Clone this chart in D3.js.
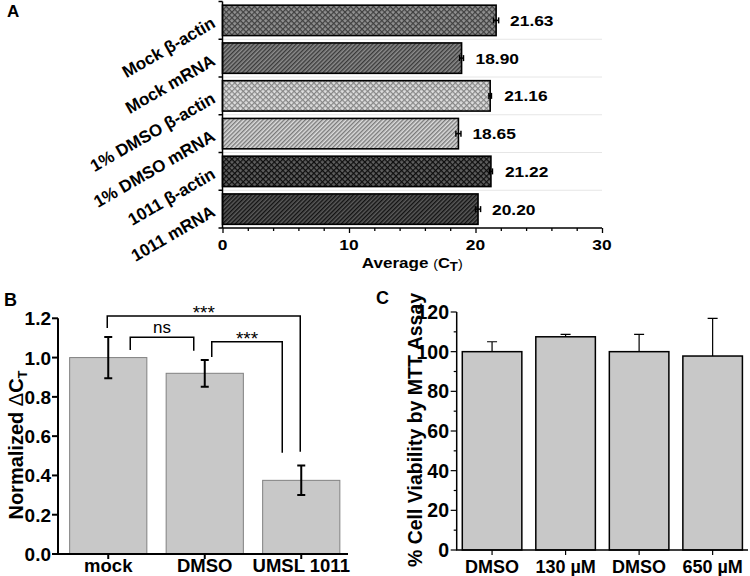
<!DOCTYPE html>
<html><head><meta charset="utf-8">
<script src="https://cdn.jsdelivr.net/npm/d3@7"></script>
<style>
body{margin:0;background:#fff;}
svg{display:block;font-family:"Liberation Sans",Arial,sans-serif;}
</style></head>
<body>
<svg id="chart" width="750" height="576"></svg>
<script>
// ---------- DATA ----------
const catsA = ["Mock β-actin","Mock mRNA","1% DMSO β-actin","1% DMSO mRNA","1011 β-actin","1011 mRNA"];
const valsA = [21.63,18.90,21.16,18.65,21.22,20.20];
const errA  = [0.2,0.15,0.1,0.2,0.12,0.2];
const ticksA = [0,10,20,30];

const catsB = ["mock","DMSO","UMSL 1011"];
const valsB = [1.0,0.92,0.375];
const errB  = [0.105,0.068,0.075];
const ticksB = [0,0.2,0.4,0.6,0.8,1.0,1.2];
// significance: from/to category index, bracket top, left leg bottom, right leg bottom (data units)
const sigFrom = [0,0,1];
const sigTo   = [2,1,2];
const sigTop  = [1.212,1.103,1.081];
const sigLegL = [1.151,1.039,1.003];
const sigLegR = [0.521,1.035,0.516];
const sigText = ["***","ns","***"];

const catsC = ["DMSO","130 µM","DMSO","650 µM"];
const valsC = [100,107.5,100,97.8];
const errC  = [5,1.2,8.7,19];
const ticksC = [0,20,40,60,80,100,120];

// ---------- STYLE ----------
const fillsA = [
  {type:"cross", bg:"#929292", fg:"#404040"},
  {type:"diag",  bg:"#8c8c8c", fg:"#3a3a3a"},
  {type:"cross", bg:"#dedede", fg:"#868686"},
  {type:"diag",  bg:"#dcdcdc", fg:"#7a7a7a"},
  {type:"cross", bg:"#606060", fg:"#0e0e0e"},
  {type:"diag",  bg:"#5a5a5a", fg:"#121212"}
];

const svg = d3.select("#chart");
const defs = svg.append("defs");
fillsA.forEach((f,i)=>{
  const s = f.type==="cross"?4:3;
  const p = defs.append("pattern").attr("id","pat"+i).attr("patternUnits","userSpaceOnUse")
    .attr("width",s).attr("height",s)
    .attr("patternTransform", f.type==="cross"?"rotate(45)":"rotate(-45)");
  p.append("rect").attr("width",s).attr("height",s).attr("fill",f.bg);
  if(f.type==="cross"){
    p.append("path").attr("d",`M0,0.6H${s}M0.6,0V${s}`).attr("stroke",f.fg).attr("stroke-width",1.2);
  } else {
    p.append("path").attr("d",`M0,0.7H${s}`).attr("stroke",f.fg).attr("stroke-width",1.4);
  }
});

function hText(g,x,y,str,size,sx,anchor,weight){
  return g.append("g").attr("transform",`translate(${x},${y}) scale(${sx},1)`)
    .append("text").attr("text-anchor",anchor||"middle").attr("font-size",size)
    .attr("font-weight",weight||"bold").attr("fill","#000").text(str);
}

// ================= PANEL A =================
const gA = svg.append("g");
const xA = d3.scaleLinear().domain([0,30]).range([222.5,602]);
const yA = d3.scaleBand().domain(catsA).range([1.5,228]).paddingInner(0.195).paddingOuter(0.0975);
const stepA = yA.step();
d3.range(1,catsA.length).forEach(i=>{
  const y = yA.range()[0]+i*stepA;
  gA.append("line").attr("x1",xA(0)).attr("x2",xA(30)).attr("y1",y).attr("y2",y)
    .attr("stroke","#e6e6e6").attr("stroke-width",1);
});
gA.selectAll("rect.bar").data(catsA).join("rect")
  .attr("x",xA(0)).attr("y",d=>yA(d)).attr("height",yA.bandwidth())
  .attr("width",(d,i)=>xA(valsA[i])-xA(0))
  .attr("fill",(d,i)=>`url(#pat${i})`).attr("stroke","#000").attr("stroke-width",1.6);
catsA.forEach((c,i)=>{
  const cy = yA(c)+yA.bandwidth()/2;
  gA.append("line").attr("x1",xA(valsA[i]-errA[i])).attr("x2",xA(valsA[i]+errA[i])).attr("y1",cy).attr("y2",cy).attr("stroke","#000").attr("stroke-width",1.5);
  [valsA[i]-errA[i],valsA[i]+errA[i]].forEach(v=>{
    gA.append("line").attr("x1",xA(v)).attr("x2",xA(v)).attr("y1",cy-3).attr("y2",cy+3).attr("stroke","#000").attr("stroke-width",1.5);
  });
  hText(gA, xA(valsA[i])+14, cy+5.5, valsA[i].toFixed(2), 15.5, 1.12, "start");
});
gA.append("line").attr("x1",xA(0)).attr("x2",xA(0)).attr("y1",yA.range()[0]).attr("y2",yA.range()[1]).attr("stroke","#000").attr("stroke-width",1.5);
d3.range(0,catsA.length+1).forEach(i=>{
  const y = yA.range()[0]+i*stepA;
  gA.append("line").attr("x1",xA(0)-4).attr("x2",xA(0)).attr("y1",y).attr("y2",y).attr("stroke","#000").attr("stroke-width",1.5);
});
catsA.forEach(c=>{
  const cy = yA(c)+yA.bandwidth()/2;
  gA.append("text").attr("transform",`translate(${xA(0)-6},${cy+6}) rotate(-30)`)
    .attr("text-anchor","end").attr("font-size",17).attr("font-weight","bold").text(c);
});
const axA = gA.append("g").attr("transform",`translate(0,228)`)
  .call(d3.axisBottom(xA).tickValues(d3.range(0,31,2)).tickSize(3).tickFormat(""));
axA.select(".domain").attr("stroke-width",1.5).attr("d",`M${xA(0)},0H${xA(30)}`);
axA.selectAll(".tick line").attr("stroke-width",1.3).attr("y2",d=>ticksA.includes(d)?5:3);
ticksA.forEach(t=>hText(gA, xA(t), 249.5, String(t), 15.5, 1.12));
const tA = gA.append("g").attr("transform",`translate(${(xA(0)+xA(30))/2},268) scale(1.1,1)`)
  .append("text").attr("text-anchor","middle").attr("font-size",15.5).attr("font-weight","bold");
tA.append("tspan").text("Average ");
tA.append("tspan").attr("font-size",13).attr("font-weight","normal").text("(");
tA.append("tspan").attr("font-size",15).text("C");
tA.append("tspan").attr("font-size",12).attr("dy",3).text("T");
tA.append("tspan").attr("font-size",13).attr("font-weight","normal").attr("dy",-3).text(")");
svg.append("text").attr("x",7).attr("y",17).attr("font-size",17).attr("font-weight","bold").text("A");

// ================= PANEL B =================
const gB = svg.append("g");
const yB = d3.scaleLinear().domain([0,1.2]).range([554,318.3]);
const xB = d3.scaleBand().domain(catsB).range([60,349.5]).paddingInner(0.2).paddingOuter(0.1);
gB.selectAll("rect.bar").data(catsB).join("rect")
  .attr("x",d=>xB(d)).attr("width",xB.bandwidth())
  .attr("y",(d,i)=>yB(valsB[i])).attr("height",(d,i)=>yB(0)-yB(valsB[i]))
  .attr("fill","#c8c8c8").attr("stroke","#808080").attr("stroke-width",1);
catsB.forEach((c,i)=>{
  const cx = xB(c)+xB.bandwidth()/2;
  const lo=yB(valsB[i]-errB[i]), hi=yB(valsB[i]+errB[i]);
  gB.append("path").attr("d",`M${cx},${lo}V${hi}M${cx-4},${lo}H${cx+4}M${cx-4},${hi}H${cx+4}`)
    .attr("stroke","#000").attr("stroke-width",2).attr("fill","none");
});
gB.append("path").attr("d",`M58,${yB(1.2)}V${yB(0)}H348`).attr("stroke","#000").attr("stroke-width",2).attr("fill","none");
ticksB.forEach(t=>{
  gB.append("line").attr("x1",52).attr("x2",58).attr("y1",yB(t)).attr("y2",yB(t)).attr("stroke","#000").attr("stroke-width",2);
  hText(gB, 51, yB(t)+7, t.toFixed(1), 19, 1, "end");
});
catsB.forEach(c=>{
  const cx = xB(c)+xB.bandwidth()/2;
  gB.append("line").attr("x1",cx).attr("x2",cx).attr("y1",yB(0)).attr("y2",yB(0)+5).attr("stroke","#000").attr("stroke-width",2);
  hText(gB, cx, 572, c, 18.5, 1);
});
const legOffL = [-1,22,7], legOffR = [-1,-11,-19];
sigFrom.forEach((f,i)=>{
  const x1 = xB(catsB[f])+xB.bandwidth()/2+legOffL[i];
  const x2 = xB(catsB[sigTo[i]])+xB.bandwidth()/2+legOffR[i];
  gB.append("path").attr("d",`M${x1},${yB(sigLegL[i])}V${yB(sigTop[i])}H${x2}V${yB(sigLegR[i])}`)
    .attr("stroke","#000").attr("stroke-width",1.5).attr("fill","none");
  const isNs = sigText[i]==="ns";
  hText(gB,(x1+x2)/2, yB(sigTop[i])-(isNs?4:-3), sigText[i], isNs?17:19, 1, "middle","normal");
});
const tB = gB.append("text").attr("transform",`translate(23,445) rotate(-90)`).attr("text-anchor","middle")
  .attr("font-size",20).attr("font-weight","bold");
tB.append("tspan").text("Normalized ");
tB.append("tspan").attr("font-weight","normal").text("Δ");
tB.append("tspan").text("C");
tB.append("tspan").attr("font-size",13).attr("dy",4).text("T");
svg.append("text").attr("x",4).attr("y",306).attr("font-size",18).attr("font-weight","bold").text("B");

// ================= PANEL C =================
const gC = svg.append("g");
const yC = d3.scaleLinear().domain([0,120]).range([550,312]);
const xC = d3.scaleBand().domain(d3.range(catsC.length)).range([456.7,748]).paddingInner(0.19).paddingOuter(0.076);
gC.selectAll("rect.bar").data(catsC).join("rect")
  .attr("x",(d,i)=>xC(i)).attr("width",xC.bandwidth())
  .attr("y",(d,i)=>yC(valsC[i])).attr("height",(d,i)=>yC(0)-yC(valsC[i]))
  .attr("fill","#c8c8c8").attr("stroke","#000").attr("stroke-width",1.5);
catsC.forEach((c,i)=>{
  const cx = xC(i)+xC.bandwidth()/2;
  const hi = yC(valsC[i]+errC[i]);
  gC.append("path").attr("d",`M${cx},${yC(valsC[i])}V${hi}M${cx-5},${hi}H${cx+5}`)
    .attr("stroke","#000").attr("stroke-width",1.2).attr("fill","none");
});
gC.append("path").attr("d",`M456.7,${yC(120)}V${yC(0)}H748`).attr("stroke","#000").attr("stroke-width",1.5).attr("fill","none");
d3.range(0,121,10).forEach(t=>{
  const major = ticksC.includes(t);
  gC.append("line").attr("x1",456.7-(major?6:3)).attr("x2",456.7).attr("y1",yC(t)).attr("y2",yC(t)).attr("stroke","#000").attr("stroke-width",1.2);
});
ticksC.forEach(t=>hText(gC, 449, yC(t)+7, String(t), 19.5, 1, "end"));
catsC.forEach((c,i)=>{
  const cx = xC(i)+xC.bandwidth()/2;
  gC.append("line").attr("x1",cx).attr("x2",cx).attr("y1",yC(0)).attr("y2",yC(0)+5).attr("stroke","#000").attr("stroke-width",1.2);
  hText(gC, cx, 573, c, 18, 1);
});
gC.append("text").attr("transform",`translate(422,430) rotate(-90)`).attr("text-anchor","middle")
  .attr("font-size",19.5).attr("font-weight","bold").text("% Cell Viability by MTT Assay");
svg.append("text").attr("x",376).attr("y",304).attr("font-size",18).attr("font-weight","bold").text("C");
</script>
</body></html>
